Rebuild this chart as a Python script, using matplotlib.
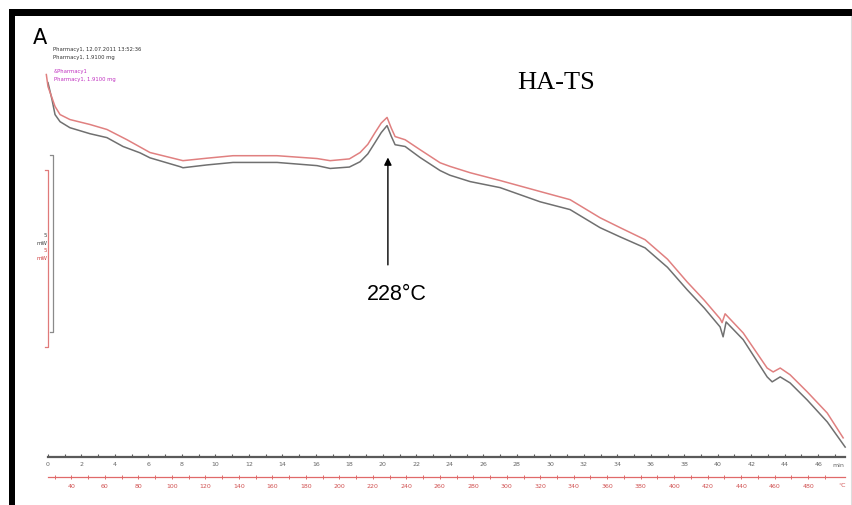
import matplotlib
matplotlib.use("Agg")
import matplotlib.pyplot as plt
from matplotlib.patches import Rectangle
from matplotlib.lines import Line2D
import numpy as np

# ---- DSC data: time (min) and heat flow (mW, arbitrary offset) ----
time_gray = [0.0, 0.24, 0.42, 0.72, 1.31, 2.51, 3.52, 4.48, 5.50, 6.09, 7.89, 8.06,
             9.5, 11.05, 13.68, 16.07, 16.85, 18.0, 18.64, 19.1, 19.53, 19.9, 20.25,
             20.5, 20.73, 21.33, 22.22, 23.42, 24.0, 25.21, 27.0, 29.39, 31.18, 32.97,
             34.17, 35.66, 37.0, 38.17, 39.2, 40.14, 40.32, 40.50, 41.52, 42.95, 43.25,
             43.73, 44.32, 45.34, 46.54, 47.61]
hf_gray = [10.56, 10.08, 9.66, 9.46, 9.29, 9.12, 9.01, 8.76, 8.58, 8.44, 8.19, 8.16,
           8.24, 8.31, 8.31, 8.22, 8.14, 8.18, 8.33, 8.55, 8.87, 9.15, 9.35,
           9.05, 8.81, 8.76, 8.45, 8.08, 7.95, 7.77, 7.60, 7.20, 6.98, 6.47,
           6.21, 5.90, 5.35, 4.72, 4.20, 3.67, 3.39, 3.81, 3.31, 2.26, 2.12,
           2.26, 2.09, 1.61, 0.99, 0.28]

time_red = [-0.1, 0.0, 0.42, 0.72, 1.31, 2.51, 3.52, 4.72, 6.09, 8.06,
            9.5, 11.05, 13.68, 16.07, 16.85, 18.0, 18.64, 19.1, 19.53, 19.9, 20.25,
            20.5, 20.73, 21.33, 22.22, 23.42, 24.0, 25.21, 27.0, 29.39, 31.18, 32.97,
            34.17, 35.66, 37.0, 38.17, 39.2, 40.14, 40.26, 40.44, 41.52, 42.95, 43.31,
            43.73, 44.32, 45.34, 46.54, 47.49]
hf_red = [10.79, 10.45, 9.89, 9.66, 9.52, 9.38, 9.24, 8.95, 8.59, 8.36,
          8.43, 8.50, 8.50, 8.42, 8.36, 8.41, 8.59, 8.82, 9.15, 9.42, 9.58,
          9.28, 9.04, 8.95, 8.67, 8.30, 8.20, 8.02, 7.80, 7.49, 7.26, 6.75,
          6.47, 6.13, 5.58, 4.94, 4.42, 3.90, 3.79, 4.04, 3.50, 2.51, 2.40,
          2.51, 2.32, 1.84, 1.24, 0.54]

time_major = list(range(0, 47, 2))
time_minor = list(range(1, 48, 2))
temp_major = list(range(40, 481, 20))
temp_minor = list(range(30, 491, 20))

peak_time = 20.2
peak_label = "228°C"
T_START = 26.0      # °C at t = 0
RATE = 10.0         # K/min

W, H = 852, 505
fig = plt.figure(figsize=(W / 100, H / 100), dpi=100)
fig.patch.set_facecolor("white")


def fx(px):
    return px / W


def fy(py):
    return 1 - py / H


# panel frame (left and top bands)
fig.add_artist(Rectangle((fx(9), 0), 6 / W, (505 - 9) / H,
                         transform=fig.transFigure, color="black", lw=0))
fig.add_artist(Rectangle((fx(9), fy(16)), (852 - 9) / W, 7 / H,
                         transform=fig.transFigure, color="black", lw=0))
fig.add_artist(Line2D([fx(851), fx(851)], [0, fy(16)], transform=fig.transFigure,
                      color="#dddddd", lw=0.8))

ax = fig.add_axes([fx(48), fy(457), (845 - 48) / W, (457 - 60) / H])
ax.set_xlim(0, 47.6)
ax.set_ylim(0, 11.2)
ax.patch.set_alpha(0)
for s in ("left", "right", "top"):
    ax.spines[s].set_visible(False)
ax.spines["bottom"].set_color("#5a5a5a")
ax.spines["bottom"].set_linewidth(1.6)
ax.set_yticks([])
ax.set_xticks(time_major)
ax.set_xticks(time_minor, minor=True)
ax.tick_params(axis="x", which="both", direction="in", length=2.2, width=0.8,
               color="#5a5a5a", labelsize=4.5, labelcolor="#666666", pad=3.5)

# temperature scale below the time scale
def t2T(t):
    return T_START + RATE * np.asarray(t)


def T2t(T):
    return (np.asarray(T) - T_START) / RATE


sec = ax.secondary_xaxis(-20 / 397, functions=(t2T, T2t))
sec.spines["bottom"].set_color("#e06a6a")
sec.spines["bottom"].set_linewidth(0.9)
sec.set_xticks(temp_major)
sec.set_xticks(temp_minor, minor=True)
sec.tick_params(axis="x", which="both", direction="inout", length=2.5, width=0.7,
                color="#e06a6a", labelsize=4.5, labelcolor="#d05050", pad=3.5)

ax.text(47.2, -9 / 35.45, "min", ha="center", va="center", fontsize=4.5,
        color="#666666", clip_on=False)
ax.text(47.45, -29 / 35.45, "°C", ha="center", va="center", fontsize=4.5,
        color="#d05050", clip_on=False)

# heat-flow curves
ax.plot(time_gray, hf_gray, color="#707070", lw=1.1, clip_on=False,
        solid_joinstyle="round")
ax.plot(time_red, hf_red, color="#e08080", lw=1.1, clip_on=False,
        solid_joinstyle="round")

# 5 mW scale bars
def bracket(t, lo, col):
    ax.plot([t - 0.18, t, t, t - 0.18], [lo + 5, lo + 5, lo, lo], color=col,
            lw=0.9, clip_on=False)


bracket(0.27, 3.53, "#8a8a8a")
bracket(0.0, 3.10, "#e07a7a")
ax.text(-0.03, 6.25, "5", ha="right", va="center", fontsize=4, color="#444444", clip_on=False)
ax.text(-0.03, 6.02, "mW", ha="right", va="center", fontsize=4, color="#444444", clip_on=False)
ax.text(-0.03, 5.82, "5", ha="right", va="center", fontsize=4, color="#d04040", clip_on=False)
ax.text(-0.03, 5.59, "mW", ha="right", va="center", fontsize=4, color="#d04040", clip_on=False)

# peak annotation
ax.annotate("", xy=(peak_time + 0.1, 8.45), xytext=(peak_time + 0.1, 5.42),
            arrowprops=dict(arrowstyle="-|>", color="black", lw=1.0,
                            mutation_scale=11, shrinkA=0, shrinkB=0))
ax.text(peak_time + 0.65, 4.58, peak_label, ha="center", va="center",
        fontsize=15.5, family="Liberation Sans", color="black")

# header texts
fig.text(fx(53), fy(50), "Pharmacy1, 12.07.2011 13:52:36", fontsize=3.8,
         color="#333333", va="center", ha="left")
fig.text(fx(53), fy(57), "Pharmacy1, 1.9100 mg", fontsize=3.8,
         color="#333333", va="center", ha="left")
fig.text(fx(54), fy(72), "&Pharmacy1", fontsize=3.8,
         color="#c030c0", va="center", ha="left")
fig.text(fx(54), fy(80), "Pharmacy1, 1.9100 mg", fontsize=3.8,
         color="#c030c0", va="center", ha="left")

fig.text(fx(33), fy(38), "A", fontsize=15, color="black", va="center", ha="left",
         family="DejaVu Sans")
fig.text(fx(556), fy(83), "HA-TS", fontsize=19, color="black", va="center",
         ha="center", family="Liberation Serif")

fig.savefig("out.png", dpi=100)
